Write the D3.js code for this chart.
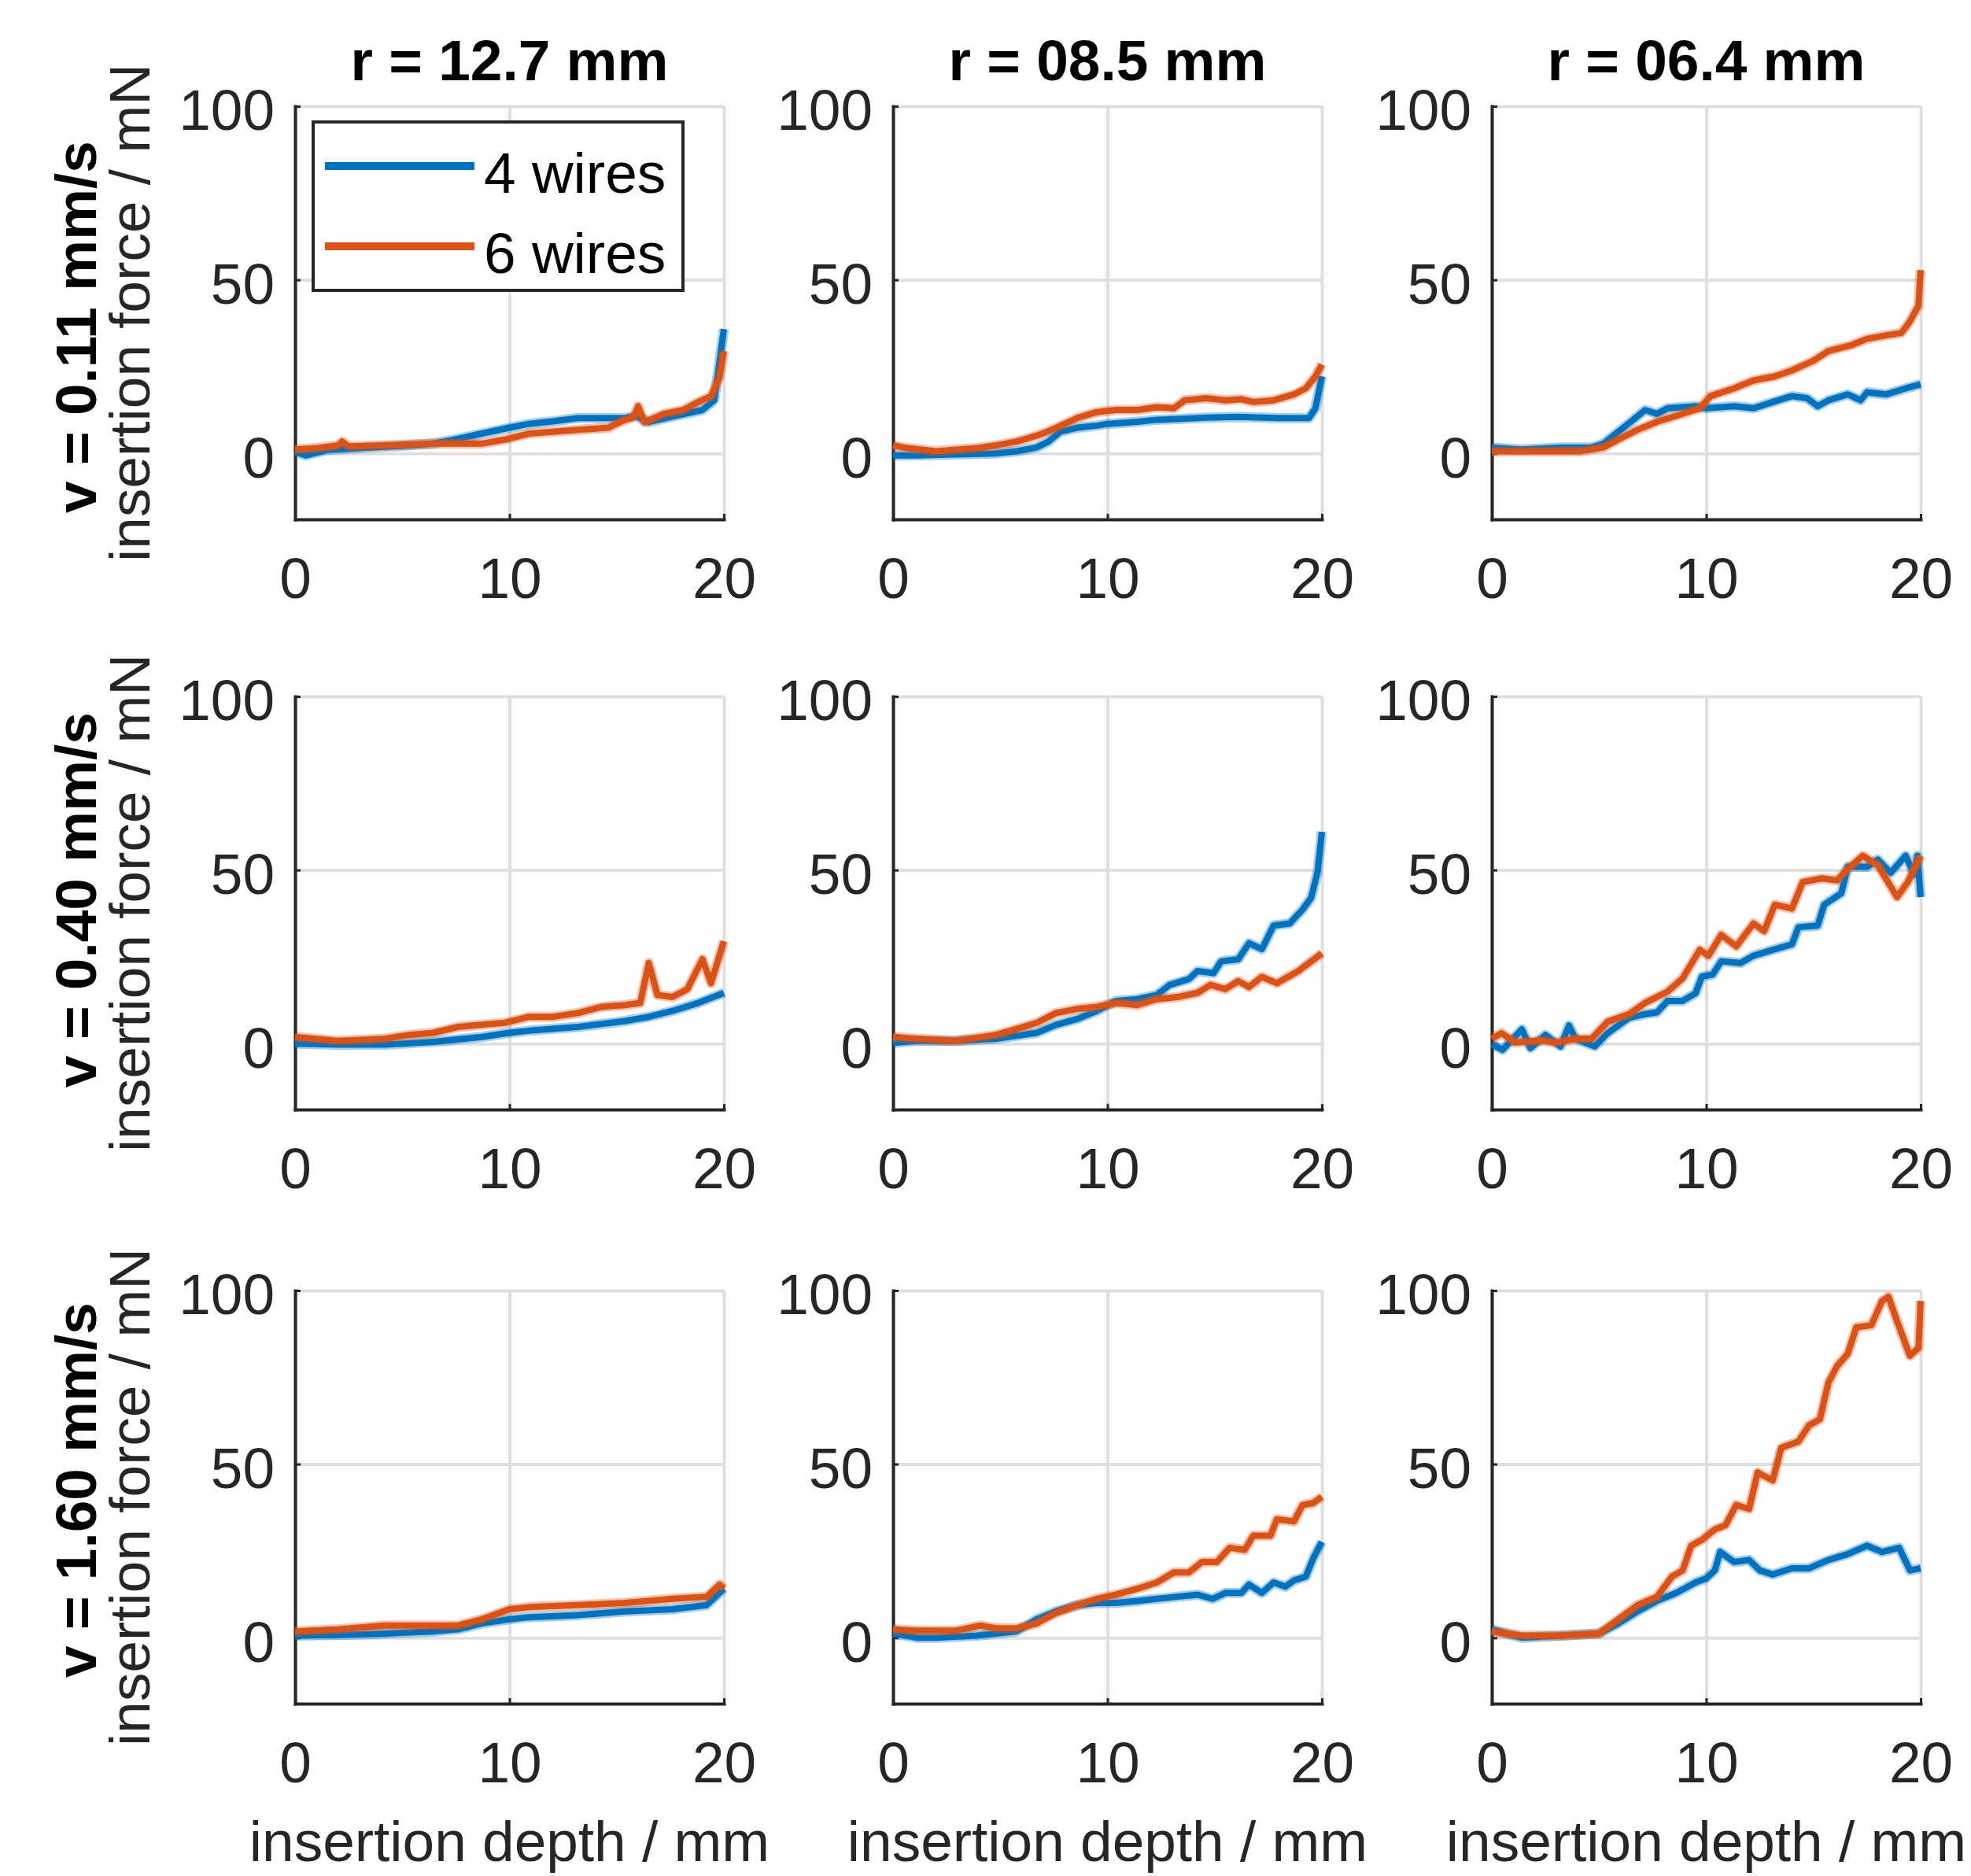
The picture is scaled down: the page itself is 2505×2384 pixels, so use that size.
<!DOCTYPE html>
<html>
<head>
<meta charset="utf-8">
<script src="https://cdn.jsdelivr.net/npm/d3@7/dist/d3.min.js"></script>
<style>
  body { margin: 0; background: #fff; }
  svg text { font-family: 'Liberation Sans', Arial, sans-serif; font-size: 73px; }
</style>
</head>
<body>
<script>
// categories / labels
var radii = ['12.7', '08.5', '06.4'];
var speeds = ['0.11', '0.40', '1.60'];
var seriesNames = ['4 wires', '6 wires'];
var xTicks = [0, 10, 20];
var yTicks = [0, 50, 100];
var xDomain = [0, 20];
var yDomain = [-19, 100];

// insertion depth (mm), insertion force (mN)
// v = 0.11 mm/s
var v011_r127_w4 = [[0,0.5],[0.5,-0.6],[1.5,1],[3,1.5],[5,2.2],[6.4,2.8],[7.6,4.2],[8.7,5.7],[10,7.4],[10.9,8.5],[12,9.2],[13.2,10.2],[15.4,10.2],[15.9,10.8],[16.5,9],[17.6,10.6],[19,12.5],[19.55,15.3],[19.8,26.7],[20,35.8]];
var v011_r127_w6 = [[0,1.1],[1,1.5],[2,2.3],[2.2,3.4],[2.5,2],[4.2,2.3],[6.45,2.8],[8.7,2.8],[9.8,4],[10.9,5.7],[13.2,6.8],[14.6,7.4],[15.4,9.7],[15.8,10.5],[16,13.6],[16.3,9],[17.2,11.4],[18.1,12.5],[18.8,14.8],[19.4,16.5],[19.8,22],[20,29.5]];
var v011_r085_w4 = [[0,-0.6],[1.1,-0.6],[2.9,-0.3],[4.8,0],[5.75,0.6],[6.7,1.7],[7.25,3.4],[7.8,6.25],[8.6,7.4],[9.5,8],[10,8.5],[11.4,9.1],[12.3,9.7],[13.25,9.9],[14.2,10.2],[16.1,10.5],[17.9,10.2],[19.4,10.2],[19.7,13],[20,22.2]];
var v011_r085_w6 = [[0,2.3],[0.7,1.5],[2,0.6],[3.9,1.5],[4.8,2.3],[5.75,3.4],[6.7,5.1],[7.4,6.8],[8.6,10.2],[9.5,11.9],[10.4,12.5],[11.4,12.5],[12.3,13.3],[13.1,13],[13.6,15.3],[14.6,15.9],[15.5,15.3],[16.25,15.6],[16.8,14.8],[17.75,15.3],[18.7,17],[19.25,18.75],[19.7,22.2],[20,25.6]];
var v011_r064_w4 = [[0,1.7],[1.4,1.1],[3.2,1.7],[4.65,1.7],[5.2,2.8],[5.9,6.25],[6.6,9.7],[7.15,12.5],[7.7,11.4],[8.2,13],[9.5,13.6],[10,13],[11.3,13.6],[12.2,13],[13.1,14.8],[14,16.5],[14.7,15.9],[15.2,13.6],[15.7,15.3],[16.6,17],[17.2,15.3],[17.5,17.6],[18.4,17],[19.3,18.75],[20,19.9]];
var v011_r064_w6 = [[0,0.6],[2.3,0.6],[4.1,0.6],[5.2,1.7],[5.9,4],[6.8,6.8],[7.7,9.1],[8.6,10.8],[9.7,13],[10.2,16.5],[11.3,18.75],[12.2,21],[13.2,22.2],[14,23.9],[15,26.7],[15.7,29.5],[16.8,31.25],[17.5,33],[18.4,34],[19.1,34.7],[19.5,38],[19.9,42.6],[20,52.8]];

// v = 0.40 mm/s
var v040_r127_w4 = [[0,0],[2,-0.3],[4.2,-0.3],[6.45,0.5],[8.7,1.9],[10,3.1],[10.9,3.7],[13.2,4.8],[15.4,6.5],[16.5,7.7],[17.6,9.4],[18.8,11.7],[20,14.6]];
var v040_r127_w6 = [[0,1.9],[2,0.8],[4.2,1.4],[5.3,2.5],[6.45,3.1],[7.6,4.8],[8.7,5.4],[9.8,6],[10.9,7.7],[12,7.7],[13.2,8.8],[14.3,10.6],[15.4,11.1],[16.1,11.7],[16.5,23.2],[16.9,14],[17.6,13.4],[18.3,15.7],[19,24.3],[19.4,17.4],[20,29.5]];
var v040_r085_w4 = [[0,0.2],[1.1,0.8],[2.9,0.8],[4.8,1.4],[6.7,3.1],[7.6,5.4],[8.6,7.1],[9.5,9.4],[10.4,12.3],[11.4,12.8],[12.3,14],[12.9,16.9],[13.8,18.6],[14.2,20.9],[14.95,20.3],[15.3,23.7],[16.1,24.3],[16.6,28.9],[17.2,27.2],[17.75,34],[18.5,34.6],[19.1,38.6],[19.5,42],[19.8,49.5],[20,61]];
var v040_r085_w6 = [[0,1.9],[1.1,1.4],[2.9,0.8],[4.8,2.5],[5.75,4.2],[6.7,6],[7.6,8.8],[8.6,10],[9.5,10.6],[10.4,11.7],[11.4,11.1],[12.3,12.8],[13.25,13.4],[14.2,14.6],[14.8,16.9],[15.5,15.7],[16.1,18],[16.6,16.3],[17.2,19.2],[17.9,17.4],[18.9,20.9],[19.4,23.2],[20,26]];
var v040_r064_w4 = [[0,-0.2],[0.5,-1.8],[1.4,4.1],[1.8,-1.3],[2.5,2.5],[3.2,-0.8],[3.6,5.2],[3.9,1.4],[4.8,-0.8],[5.4,3],[6.4,7.4],[7.15,8.5],[7.7,9],[8.2,12.3],[8.9,12.3],[9.5,14.5],[9.8,19.3],[10.3,19.9],[10.7,23.7],[11.6,23.2],[12.2,25.3],[13.1,27],[14,28.6],[14.3,33.5],[15.2,34],[15.5,40],[16.3,43.3],[16.6,50.9],[17.5,50.9],[18,53],[18.6,49.2],[19.3,54.1],[19.7,48.7],[19.85,54.1],[20,42.2]];
var v040_r064_w6 = [[0,1.4],[0.45,3],[1.1,0.3],[2.3,0.9],[3,0.3],[3.9,1.4],[4.65,1.4],[5.4,6.3],[6.4,8.5],[7.15,11.7],[8.2,15],[8.9,18.8],[9.7,27],[10.1,25.3],[10.7,31.3],[11.4,28],[12.2,34.6],[12.7,32.4],[13.2,40],[14,38.9],[14.5,46.5],[15.4,47.6],[16.1,47],[16.6,50.3],[17.3,54.1],[18,51.4],[18.9,42.2],[19.4,46.5],[20,54.1]];

// v = 1.60 mm/s
var v160_r127_w4 = [[0,0.6],[2,0.8],[4.2,1.2],[6.45,1.8],[7.6,2.4],[8.7,4.1],[10,5.3],[10.9,5.9],[13.2,6.5],[15.4,7.6],[17.6,8.2],[19.2,9.4],[20,14.1]];
var v160_r127_w6 = [[0,1.8],[2,2.4],[4.2,3.5],[6.45,3.5],[7.6,3.5],[8.7,5.3],[10,8.2],[10.9,8.8],[13.2,9.4],[15.4,10],[17.6,11.2],[19.2,11.8],[19.8,15.3],[20,14.1]];
var v160_r085_w4 = [[0,1.2],[1.1,0],[2,0],[3.9,0.6],[5.75,1.8],[6.7,5.3],[7.6,7.6],[8.6,9.4],[9.5,10],[10.4,10],[11.4,10.6],[12.3,11.2],[13.25,11.8],[14.2,12.4],[14.9,11.2],[15.5,12.9],[16.25,12.9],[16.6,15.3],[17.2,12.9],[17.75,15.9],[18.3,14.7],[18.7,16.5],[19.25,17.6],[19.6,22.9],[20,27.6]];
var v160_r085_w6 = [[0,2.4],[1.1,2],[2.9,2],[4.07,3.5],[4.8,2.7],[5.75,2.7],[6.7,4.1],[7.6,7.1],[8.6,9.4],[9.5,11.2],[10.4,12.4],[11.4,14.1],[12.3,15.9],[13.1,18.8],[13.8,18.8],[14.4,21.8],[15.1,21.8],[15.7,25.9],[16.4,25.3],[16.8,29.4],[17.6,29.4],[17.9,34.1],[18.7,33.5],[19.1,38.2],[19.6,38.8],[20,40.6]];
var v160_r064_w4 = [[0,2.4],[1.4,0],[3.2,0.6],[5,1.2],[5.9,4.1],[6.8,7.6],[7.7,10.6],[8.6,12.9],[9.5,15.9],[10,17.1],[10.4,19.4],[10.65,24.7],[11.3,21.8],[12,22.4],[12.5,19.4],[13.1,18.2],[14,20],[14.8,20],[15.7,22.4],[16.6,24.1],[17.5,26.5],[18.2,24.7],[19,25.9],[19.5,19.4],[20,20]];
var v160_r064_w6 = [[0,1.8],[1.4,0.6],[3.2,0.6],[5,1.2],[5.9,5.3],[6.8,9.4],[7.7,11.8],[8.4,17.6],[8.9,19.4],[9.3,26.5],[9.8,28.2],[10.4,31.2],[10.9,32.4],[11.4,38.2],[12,37.1],[12.4,47.6],[13.1,45.3],[13.5,54.7],[14.3,56.5],[14.8,61.2],[15.3,62.9],[15.7,73.5],[16.1,78.2],[16.6,81.8],[17,89.4],[17.7,90],[18.2,97],[18.5,98.2],[18.9,91.2],[19.5,81.2],[19.9,83.5],[20,97]];

var panels = [
    [[v011_r127_w4, v011_r127_w6], [v011_r085_w4, v011_r085_w6], [v011_r064_w4, v011_r064_w6]],
    [[v040_r127_w4, v040_r127_w6], [v040_r085_w4, v040_r085_w6], [v040_r064_w4, v040_r064_w6]],
    [[v160_r127_w4, v160_r127_w6], [v160_r085_w4, v160_r085_w6], [v160_r064_w4, v160_r064_w6]]
];

// layout
var colLeft = [375, 1135, 1896],
    rowTop = [135, 885, 1640],
    pw = 545,
    ph = 525;
var rowLabelNudge = [18, -4, -9];
var colors = ['#0072BD', '#D95319'];
var axisColor = '#262626';

var svg = d3.select('body')
            .append('svg')
            .attr('width', 2505)
            .attr('height', 2384);

var x = d3.scaleLinear().domain(xDomain).range([0, pw]);
var y = d3.scaleLinear().domain(yDomain).range([ph, 0]);
var line = d3.line().x(d => x(d[0])).y(d => y(d[1]));

panels.forEach(function(row, r) {
    row.forEach(function(series, c) {
        var g = svg.append('g')
                   .attr('transform', 'translate(' + colLeft[c] + ',' + rowTop[r] + ')');

        // grid
        g.append('g')
            .call(d3.axisLeft(y).tickValues(yTicks).tickSize(-pw).tickFormat(''))
            .call(s => s.select('.domain').remove());
        g.append('g')
            .attr('transform', 'translate(0,' + ph + ')')
            .call(d3.axisBottom(x).tickValues(xTicks).tickSize(-ph).tickFormat(''))
            .call(s => s.select('.domain').remove());
        g.selectAll('.tick line').attr('stroke', '#dfdfdf').attr('stroke-width', 4);

        // xAxis
        var xa = g.append('g')
            .attr('transform', 'translate(0,' + ph + ')')
            .call(d3.axisBottom(x).tickValues(xTicks).tickSizeInner(-7).tickSizeOuter(0));
        xa.selectAll('text').attr('y', 100).attr('dy', null);

        // yAxis
        var ya = g.append('g')
            .call(d3.axisLeft(y).tickValues(yTicks).tickSizeInner(-7).tickSizeOuter(0).tickPadding(26));
        ya.selectAll('text').attr('dy', '0.41em');

        [xa, ya].forEach(function(a) {
            a.attr('font-size', null).attr('font-family', null);
            a.select('.domain').attr('stroke', axisColor).attr('stroke-width', 4).attr('stroke-linecap', 'square');
            a.selectAll('.tick line').attr('stroke', axisColor).attr('stroke-width', 3);
            a.selectAll('text').attr('fill', axisColor);
        });

        // lines
        series.forEach(function(d, i) {
            g.append('path')
                .datum(d)
                .attr('fill', 'none')
                .attr('stroke', colors[i])
                .attr('stroke-opacity', 0.35)
                .attr('stroke-width', 13)
                .attr('stroke-linejoin', 'round')
                .attr('d', line);
            g.append('path')
                .datum(d)
                .attr('fill', 'none')
                .attr('stroke', colors[i])
                .attr('stroke-width', 8)
                .attr('stroke-linejoin', 'round')
                .attr('d', line);
        });

        // Title
        if (r === 0) {
            g.append('text')
                .attr('x', pw / 2)
                .attr('y', -33)
                .attr('text-anchor', 'middle')
                .attr('font-weight', 'bold')
                .attr('fill', '#000')
                .text('r = ' + radii[c] + ' mm');
        }

        // row labels
        if (c === 0) {
            g.append('text')
                .attr('transform', 'translate(-253,' + (ph / 2 + rowLabelNudge[r]) + ') rotate(-90)')
                .attr('text-anchor', 'middle')
                .attr('font-weight', 'bold')
                .attr('fill', '#000')
                .text('v = ' + speeds[r] + ' mm/s');
            g.append('text')
                .attr('transform', 'translate(-185,' + (ph / 2) + ') rotate(-90)')
                .attr('text-anchor', 'middle')
                .attr('fill', axisColor)
                .text('insertion force / mN');
        }

        // x label
        if (r === 2) {
            g.append('text')
                .attr('x', pw / 2)
                .attr('y', ph + 200)
                .attr('text-anchor', 'middle')
                .attr('fill', axisColor)
                .text('insertion depth / mm');
        }

        // Legend
        if (r === 0 && c === 0) {
            var lg = g.append('g').attr('transform', 'translate(23,20)');
            lg.append('rect')
                .attr('width', 470)
                .attr('height', 214)
                .attr('fill', '#fff')
                .attr('stroke', axisColor)
                .attr('stroke-width', 4);
            seriesNames.forEach(function(name, i) {
                var ly = 56 + i * 102;
                lg.append('line')
                    .attr('x1', 15).attr('x2', 205)
                    .attr('y1', ly).attr('y2', ly)
                    .attr('stroke', colors[i])
                    .attr('stroke-width', 10);
                lg.append('text')
                    .attr('x', 217)
                    .attr('y', ly + 34)
                    .attr('fill', '#000')
                    .text(name);
            });
        }
    });
});
</script>
</body>
</html>
